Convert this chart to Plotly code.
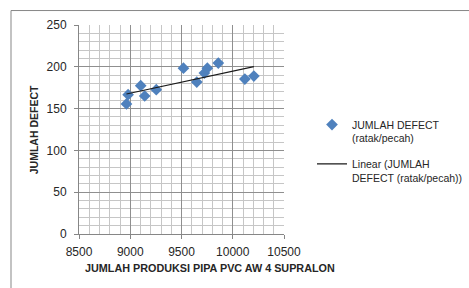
import numpy as np
import plotly.graph_objects as go

# data
produksi = [8963, 8979, 9102, 9141, 9254, 9519, 9649, 9723, 9752, 9859, 10118, 10206]
defect = [155.6, 166.7, 177.4, 165.1, 172.6, 198.4, 181.7, 192.5, 198.4, 204.4, 185.3, 188.9]
x_title = "JUMLAH PRODUKSI PIPA PVC AW 4 SUPRALON"
y_title = "JUMLAH DEFECT"
series_name = "JUMLAH DEFECT<br>(ratak/pecah)"
trend_name = "Linear (JUMLAH<br>DEFECT (ratak/pecah))"

slope, intercept = np.polyfit(produksi, defect, 1)
tx = [min(produksi), max(produksi)]
ty = [slope * v + intercept for v in tx]

W, H = 469, 288
L, R, T, B = 79, 284, 24.5, 234
pw, ph = R - L, B - T

def px(xp):
    return (xp - L) / pw

def py(yp):
    return (B - yp) / ph

FONT = "Liberation Sans, Arial, sans-serif"

fig = go.Figure()
fig.add_trace(go.Scatter(
    x=produksi, y=defect, mode="markers", name=series_name,
    legendgroup="g1",
    marker=dict(symbol="diamond", size=9, color="#4f81bd"),
))
fig.add_trace(go.Scatter(
    x=tx, y=ty, mode="lines", name=trend_name,
    legendgroup="g2",
    line=dict(color="#1a1a1a", width=1.2),
))

axis_common = dict(
    showline=True, linecolor="#868686", linewidth=1,
    ticks="outside", ticklen=4, tickcolor="#868686",
    showgrid=True, gridcolor="#8f8f8f", gridwidth=1.2,
    zeroline=False, automargin=False,
    tickformat="d",
    tickfont=dict(family=FONT, size=12, color="#262626"),
)

fig.update_layout(
    width=W, height=H,
    margin=dict(l=L, r=W - R, t=T, b=H - B, autoexpand=False),
    paper_bgcolor="white", plot_bgcolor="white",
    font=dict(family=FONT, color="#262626"),
    showlegend=True,
    legend=dict(
        x=px(312), y=py(111), xanchor="left", yanchor="top",
        font=dict(family=FONT, size=10.5, color="#262626"),
        valign="top", tracegroupgap=9,
        bgcolor="rgba(0,0,0,0)",
    ),
    xaxis=dict(
        range=[8500, 10500], dtick=500, tick0=8500,
        minor=dict(dtick=100, showgrid=True, gridcolor="#c6c6c6", gridwidth=1.2),
        ticklabelstandoff=3,
        **axis_common,
    ),
    yaxis=dict(
        range=[0, 250], dtick=50, tick0=0,
        minor=dict(dtick=10, showgrid=True, gridcolor="#c6c6c6", gridwidth=1.2),
        ticklabelstandoff=5,
        **axis_common,
    ),
    shapes=[dict(
        type="rect", xref="paper", yref="paper",
        x0=px(11), x1=px(W + 5), y0=py(H + 5), y1=py(10),
        line=dict(color="#878787", width=1), layer="below",
    )],
    annotations=[
        dict(text="<b>%s</b>" % x_title, xref="paper", yref="paper",
             x=px(210), y=py(268), xanchor="center", yanchor="middle",
             showarrow=False, font=dict(family=FONT, size=10.8, color="#262626")),
        dict(text="<b>%s</b>" % y_title, xref="paper", yref="paper",
             x=px(34), y=py(130), xanchor="center", yanchor="middle",
             textangle=-90, showarrow=False,
             font=dict(family=FONT, size=10.5, color="#262626")),
    ],
)

fig.write_html(
    "out.html",
    config={"displayModeBar": False},
    post_script="document.body.style.margin='0';document.body.style.overflow='hidden';",
)
